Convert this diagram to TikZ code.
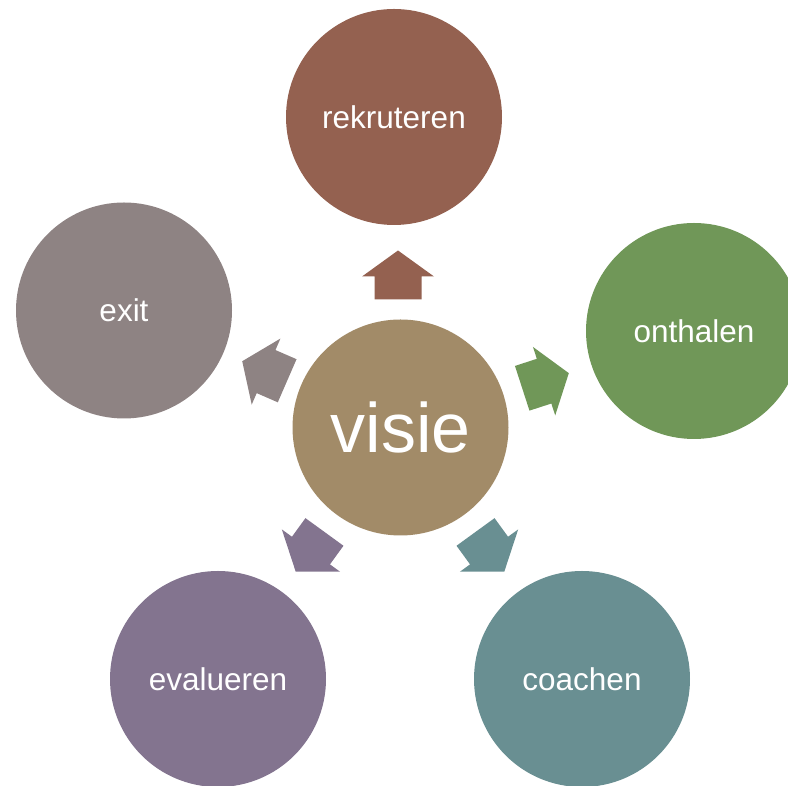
\documentclass[tikz,border=0pt]{standalone}
\usepackage{fontspec}
\setmainfont{Liberation Sans}
\definecolor{cvisie}{HTML}{A28B68}
\definecolor{crek}{HTML}{946150}
\definecolor{conth}{HTML}{709758}
\definecolor{ccoach}{HTML}{698F92}
\definecolor{ceval}{HTML}{83748F}
\definecolor{cexit}{HTML}{8E8383}
\tikzset{
  bubble/.style={circle, minimum size=216pt, inner sep=0pt, text=white,
    font=\fontsize{31.5}{36}\selectfont},
  blockarrow/.pic={
    \fill (128.5pt,-23.5pt) -- (151.5pt,-23.5pt) -- (151.5pt,-36pt) -- (177.5pt,0pt)
      -- (151.5pt,36pt) -- (151.5pt,23.5pt) -- (128.5pt,23.5pt) -- cycle;
  }
}
\begin{document}
\begin{tikzpicture}[x=1pt,y=1pt]
\useasboundingbox (0,0) rectangle (788,786);
\clip (0,0) rectangle (788,786);
% center
\node[bubble, fill=cvisie, font=\fontsize{70}{80}\selectfont] (visie) at (400.5,358.5) {visie};
\node[bubble, fill=crek] (rek) at (394,669) {rekruteren};
\node[bubble, fill=conth] (onth) at (694,455) {onthalen};
\node[bubble, fill=ccoach] (coach) at (582,107) {coachen};
\node[bubble, fill=ceval] (eval) at (218,107) {evalueren};
\node[bubble, fill=cexit] (exit) at (124,475.5) {exit};
% arrows
\pic[crek, shift={(398,358)}, rotate=90] {blockarrow};
\pic[conth, shift={(400,358)}, rotate=18] {blockarrow};
\pic[ccoach, shift={(400,358)}, rotate=-54] {blockarrow};
\pic[ceval, shift={(400,358)}, rotate=-126] {blockarrow};
\pic[cexit, shift={(405,354)}, rotate=156.5] {blockarrow};
\end{tikzpicture}
\end{document}
